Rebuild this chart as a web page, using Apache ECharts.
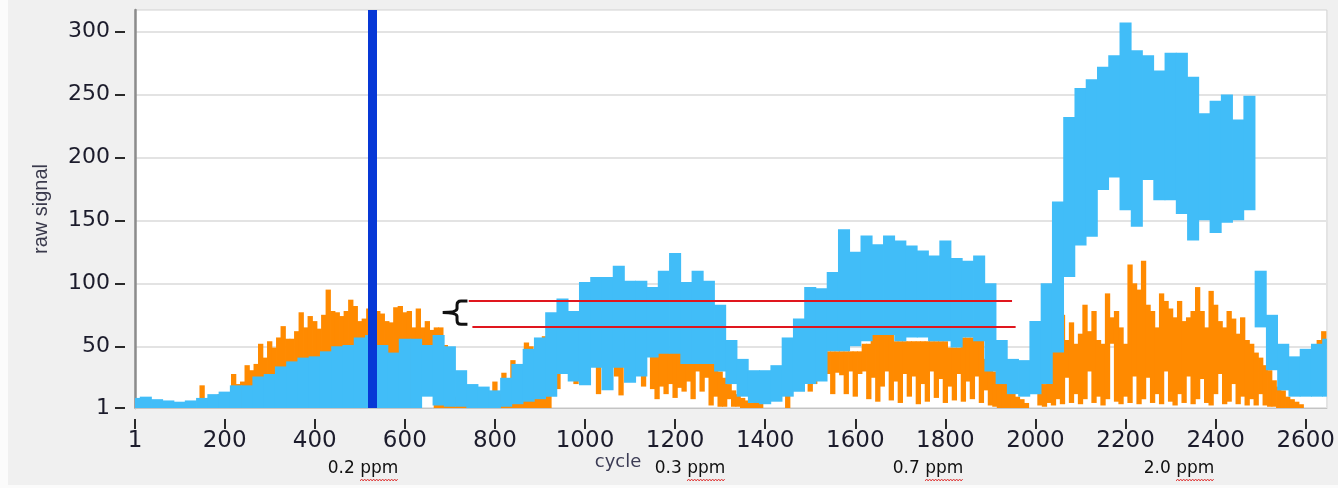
<!DOCTYPE html>
<html>
<head>
<meta charset="utf-8">
<script src="https://cdn.jsdelivr.net/npm/echarts@6/dist/echarts.min.js"></script>
<style>
html,body{margin:0;padding:0;background:#f0f0f0;overflow:hidden}
#c{width:1338px;height:488px}
</style>
</head>
<body>
<div id="c"></div>
<script>
// ---------------- DATA ----------------
const xTickValues = [1,200,400,600,800,1000,1200,1400,1600,1800,2000,2200,2400,2600];
const yTickValues = [1,50,100,150,200,250,300];

// light-blue signal: sampled band (low/high envelope) every 25 cycles
const blueStep = 25;
const blueCycles = [0,25,50,75,100,125,150,175,200,225,250,275,300,325,350,375,400,425,450,475,500,525,550,575,600,625,650,675,700,725,750,775,800,825,850,875,900,925,950,975,1000,1025,1050,1075,1100,1125,1150,1175,1200,1225,1250,1275,1300,1325,1350,1375,1400,1425,1450,1475,1500,1525,1550,1575,1600,1625,1650,1675,1700,1725,1750,1775,1800,1825,1850,1875,1900,1925,1950,1975,2000,2025,2050,2075,2100,2125,2150,2175,2200,2225,2250,2275,2300,2325,2350,2375,2400,2425,2450,2475,2500,2525,2550,2575,2600,2625,2650];
const blueHigh = [9,10,8,7,6,7,9,12,14,19,
  19,26,28,34,38,41,42,46,50,51,
  57,59,51,45,56,56,51,59,50,31,
  20,18,15,25,36,48,57,77,88,78,
  101,105,105,114,102,102,97,110,124,101,
  110,102,83,55,40,31,31,35,57,72,
  97,96,109,143,125,138,131,138,134,130,
  126,122,134,120,118,122,100,55,40,39,
  70,100,165,232,255,262,272,281,307,285,
  281,269,283,283,264,235,245,250,230,249,
  110,75,52,42,48,52,56];
const blueLow = [0,0,0,0,0,0,0,0,0,0,
  0,0,0,0,0,0,0,0,0,0,
  0,0,0,0,0,0,10,3,2,2,
  0,0,0,2,4,6,8,10,28,22,
  19,33,15,33,21,26,41,44,44,36,
  36,36,30,20,10,5,4,6,10,14,
  20,22,46,46,50,54,59,59,54,57,
  57,54,54,49,57,54,30,20,12,10,
  12,20,45,105,130,137,174,184,158,145,
  182,166,166,155,134,150,140,148,150,158,
  65,31,15,10,10,10,10];

// orange signal: sampled band (low/high envelope) every 10 cycles
const orangeStep = 10;
const orangeCycles = [150,160,170,180,190,200,210,220,230,240,250,260,270,280,290,300,310,320,330,340,350,360,370,380,390,400,410,420,430,440,450,460,470,480,490,500,510,520,530,540,550,560,570,580,590,600,610,620,630,640,650,660,670,680,690,700,710,720,730,740,750,760,770,780,790,800,810,820,830,840,850,860,870,880,890,900,910,920,930,940,950,960,970,980,990,1000,1010,1020,1030,1040,1050,1060,1070,1080,1090,1100,1110,1120,1130,1140,1150,1160,1170,1180,1190,1200,1210,1220,1230,1240,1250,1260,1270,1280,1290,1300,1310,1320,1330,1340,1350,1360,1370,1380,1390,1400,1410,1420,1430,1440,1450,1460,1470,1480,1490,1500,1510,1520,1530,1540,1550,1560,1570,1580,1590,1600,1610,1620,1630,1640,1650,1660,1670,1680,1690,1700,1710,1720,1730,1740,1750,1760,1770,1780,1790,1800,1810,1820,1830,1840,1850,1860,1870,1880,1890,1900,1910,1920,1930,1940,1950,1960,1970,1980,1990,2000,2010,2020,2030,2040,2050,2060,2070,2080,2090,2100,2110,2120,2130,2140,2150,2160,2170,2180,2190,2200,2210,2220,2230,2240,2250,2260,2270,2280,2290,2300,2310,2320,2330,2340,2350,2360,2370,2380,2390,2400,2410,2420,2430,2440,2450,2460,2470,2480,2490,2500,2510,2520,2530,2540,2550,2560,2570,2580,2590,2600,2610,2620,2630,2640,2650];
const orangeHigh = [19,6,6,8,12,8,10,28,20,22,
  35,31,36,52,41,54,49,57,66,56,
  56,62,77,65,74,70,64,75,95,78,
  77,74,78,87,82,70,72,80,75,78,
  76,70,69,81,82,77,78,65,80,65,
  70,63,65,65,51,20,10,8,8,6,
  5,5,5,8,10,22,12,29,20,39,
  30,35,53,50,45,50,58,55,60,60,
  60,60,60,60,60,60,60,60,60,60,
  60,60,60,60,60,60,60,60,60,60,
  45,45,45,45,45,45,45,45,45,40,
  40,40,40,40,36,30,25,20,15,12,
  9,7,5,6,8,0,0,0,0,0,
  12,0,0,0,0,35,30,0,0,46,
  46,46,46,46,46,46,46,52,52,59,
  59,59,59,59,54,54,54,54,54,54,
  54,54,54,54,54,54,49,49,49,57,
  57,57,57,57,40,33,30,28,24,20,
  15,10,8,5,0,0,28,20,57,50,
  60,75,55,69,52,60,83,62,78,55,
  52,92,73,78,65,52,115,100,95,118,
  83,78,65,92,86,80,73,86,70,73,
  78,97,78,65,94,83,70,65,78,72,
  60,73,55,52,45,41,35,31,23,18,
  15,10,8,6,4,0,0,0,55,62,
  0];
const orangeLow = [0,0,0,0,0,0,0,0,0,0,
  0,0,0,0,0,0,0,0,0,0,
  0,0,0,0,0,0,0,0,0,0,
  0,0,0,0,0,0,0,0,0,0,
  0,0,0,0,0,0,0,0,0,12,
  12,12,0,0,0,0,0,0,0,0,
  0,0,0,0,0,0,0,0,0,0,
  0,0,0,0,0,0,0,0,15,16,
  45,45,45,20,45,45,45,45,12,45,
  45,45,26,11,45,45,30,45,18,45,
  16,8,18,12,20,9,17,14,22,8,
  30,14,25,3,10,2,2,8,2,2,
  1,1,0,0,0,0,0,0,0,0,
  0,0,0,0,0,14,20,0,0,28,
  12,29,27,12,30,10,28,30,8,25,
  6,18,30,7,22,5,28,10,26,4,
  20,6,30,9,24,5,18,7,28,6,
  22,8,26,5,15,3,2,1,1,0,
  0,0,0,0,0,0,3,2,5,3,
  8,4,25,5,12,4,8,30,5,10,
  3,8,52,6,4,10,5,26,4,8,
  25,5,12,4,30,6,3,12,5,26,
  4,8,24,5,3,12,28,4,6,20,
  4,10,3,8,3,12,3,2,2,1,
  1,0,0,0,0,0,0,0,45,48,
  0];

// annotations
const markerCycle = 527;                       // thick blue vertical marker
const redLines = [                              // two red reference lines
  {from: 742, to: 1948, value: 86.5},
  {from: 750, to: 1956, value: 65.5}
];
const brace = [[739, 86, 67.5, 684]];           // [right cycle, top value, bottom value, tip cycle]
const ppmLabels = ['0.2 ppm', '0.3 ppm', '0.7 ppm', '2.0 ppm'];
const ppmLabelX = [363, 690, 928, 1179];

// ---------------- CHART ----------------
const chart = echarts.init(document.getElementById('c'), null, {renderer: 'canvas'});
const triples = (xs, lo, hi) => xs.map((x, i) => [x, lo[i], hi[i]]);

const TICK_FONT = 'DejaVu Sans';
const BLUE = '#41bdf8';
const ORANGE = '#ff8a00';

// each sample is drawn as a filled step [cycle - step/2, cycle + step/2] x [low, high]
function bandRenderer(step, color) {
  return function (params, api) {
    const c = api.value(0), lo = api.value(1), hi = api.value(2);
    if (hi <= lo) return null;
    const p0 = api.coord([c - step / 2, hi]);
    const p1 = api.coord([c + step / 2, lo]);
    const rect = echarts.graphic.clipRectByRect(
      {x: p0[0] - 0.4, y: p0[1], width: p1[0] - p0[0] + 0.8, height: p1[1] - p0[1]},
      {x: params.coordSys.x, y: params.coordSys.y, width: params.coordSys.width, height: params.coordSys.height}
    );
    if (!rect) return null;
    return {type: 'rect', shape: rect, style: {fill: color}};
  };
}

function renderBrace(params, api) {
  const cx = api.value(0), vt = api.value(1), vb = api.value(2), ct = api.value(3);
  const t = api.coord([cx, vt]), b = api.coord([cx, vb]);
  const tip = api.coord([ct, (vt + vb) / 2]);
  const xr = t[0], xl = tip[0], xm = xl + (xr - xl) * 0.58, ym = tip[1], r = 4;
  const d = 'M' + xr + ' ' + t[1] + ' L' + (xm + r) + ' ' + t[1] +
    ' Q' + xm + ' ' + t[1] + ' ' + xm + ' ' + (t[1] + r) +
    ' L' + xm + ' ' + (ym - r) + ' Q' + xm + ' ' + ym + ' ' + xl + ' ' + ym +
    ' Q' + xm + ' ' + ym + ' ' + xm + ' ' + (ym + r) +
    ' L' + xm + ' ' + (b[1] - r) + ' Q' + xm + ' ' + b[1] + ' ' + (xm + r) + ' ' + b[1] +
    ' L' + xr + ' ' + b[1];
  return {type: 'path', shape: {pathData: d}, style: {fill: 'none', stroke: '#111', lineWidth: 3}};
}

// squiggly red underline under each "ppm"
const mctx = document.createElement('canvas').getContext('2d');
const PPM_FONT = '17px "DejaVu Sans"';
mctx.font = PPM_FONT;
const graphics = [
  {type: 'rect', left: 0, top: 0, shape: {width: 8, height: 488}, style: {fill: '#fbfbfb'}, silent: true},
  {type: 'rect', left: 0, top: 485, shape: {width: 1338, height: 3}, style: {fill: '#fbfbfb'}, silent: true},
  {type: 'text', x: 618, y: 462, style: {text: 'cycle', font: '18px "DejaVu Sans"', fill: '#3c3c55', align: 'center', verticalAlign: 'middle'}, silent: true}
];
ppmLabels.forEach((txt, i) => {
  const cx = ppmLabelX[i];
  graphics.push({type: 'text', x: cx, y: 469, style: {text: txt, font: PPM_FONT, fill: '#111', align: 'center', verticalAlign: 'middle'}, silent: true});
  const w = mctx.measureText(txt).width, wp = mctx.measureText('ppm').width;
  const x1 = cx + w / 2, x0 = x1 - wp;
  const pts = [];
  let k = 0;
  for (let x = x0; x <= x1; x += 1.5, k++) pts.push([x, 480 + (k % 2 ? -1 : 1)]);
  graphics.push({type: 'polyline', shape: {points: pts}, style: {stroke: '#e04040', lineWidth: 1, fill: null}, silent: true});
});

const plain = v => String(v);

const option = {
  backgroundColor: '#f0f0f0',
  animation: false,
  grid: {left: 135, right: 3, top: 10, bottom: 80, show: true, backgroundColor: '#ffffff', borderColor: '#d2d2d2', borderWidth: 1},
  xAxis: [
    {type: 'value', min: 1, max: 2647, position: 'bottom', offset: 11,
      axisLine: {show: false}, splitLine: {show: false},
      axisTick: {show: true, length: 10, customValues: xTickValues, lineStyle: {color: '#2a2a2a', width: 2}},
      axisLabel: {customValues: xTickValues, formatter: plain, fontFamily: TICK_FONT, fontSize: 23, color: '#1c1c2c', margin: 11}},
    {type: 'value', min: 1, max: 2647, position: 'bottom',
      axisLine: {show: true, lineStyle: {color: '#c4c4c4', width: 1}},
      axisTick: {show: false}, axisLabel: {show: false}, splitLine: {show: false}}
  ],
  yAxis: [
    {type: 'value', min: 1, max: 317, position: 'left', offset: 10,
      axisLine: {show: false},
      axisTick: {show: true, length: 10, customValues: yTickValues, lineStyle: {color: '#2a2a2a', width: 2}},
      axisLabel: {customValues: yTickValues, formatter: plain, fontFamily: TICK_FONT, fontSize: 22, color: '#1c1c2c', margin: 15},
      splitLine: {show: true, lineStyle: {color: '#e3e3e3', width: 2}},
      name: 'raw signal', nameLocation: 'middle', nameGap: 74,
      nameTextStyle: {fontFamily: 'Liberation Sans', fontSize: 20, color: '#3a3a4c'}},
    {type: 'value', min: 1, max: 317, position: 'left',
      axisLine: {show: true, lineStyle: {color: '#8c8c8c', width: 2.5}},
      axisTick: {show: false}, axisLabel: {show: false}, splitLine: {show: false}}
  ],
  graphic: graphics,
  series: [
    {type: 'custom', name: 'orange', renderItem: bandRenderer(orangeStep, ORANGE), silent: true, z: 2,
      data: triples(orangeCycles, orangeLow, orangeHigh), encode: {x: 0, y: [1, 2]}},
    {type: 'custom', name: 'blue', renderItem: bandRenderer(blueStep, BLUE), silent: true, z: 3,
      data: triples(blueCycles, blueLow, blueHigh), encode: {x: 0, y: [1, 2]}},
    {type: 'line', data: [], z: 5, silent: true,
      markLine: {
        silent: true, symbol: ['none', 'none'], label: {show: false}, animation: false,
        emphasis: {disabled: true},
        data: [
          {xAxis: markerCycle, lineStyle: {color: '#0738d6', width: 9, type: 'solid'}},
          ...redLines.map(r => [
            {coord: [r.from, r.value], lineStyle: {color: '#e0161e', width: 1.8, type: 'solid'}},
            {coord: [r.to, r.value]}
          ])
        ]
      }},
    {type: 'custom', renderItem: renderBrace, data: brace, z: 6, silent: true, clip: false,
      encode: {x: 0, y: 1}}
  ]
};
chart.setOption(option);
</script>
</body>
</html>
